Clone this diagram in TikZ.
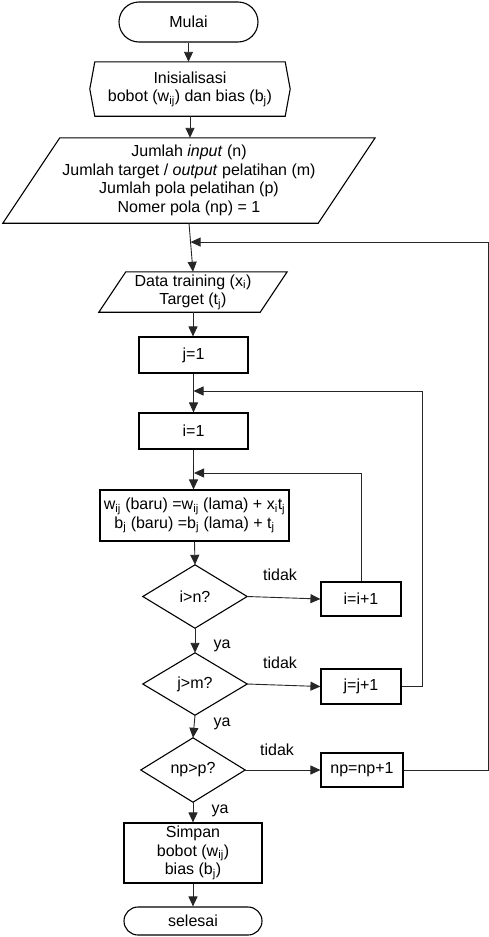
\documentclass[tikz,border=0pt]{standalone}
\usepackage{fontspec}
\setmainfont{Liberation Sans}
\usetikzlibrary{arrows.meta,calc}
\begin{document}
\begin{tikzpicture}[x=1pt,y=-1pt,
  font=\fontsize{16}{18.5}\selectfont,
  box/.style={draw=black,line width=1.1pt,align=center,inner sep=0pt},
  hold/.style={align=center,inner sep=0pt},
  outl/.style={draw=black,line width=1.1pt,line join=miter},
  flow/.style={draw=black!85,line width=0.9pt,-{Triangle[length=10pt,width=9pt]}},
  loop/.style={draw=black!85,line width=0.8pt,-{Triangle[length=10pt,width=9pt]}},
  lbl/.style={inner sep=0pt}]
\useasboundingbox (0,0) rectangle (489,937);

% start
\node[box,rounded corners=20pt,minimum width=139pt,minimum height=40pt] (start) at (188.5,22) {Mulai};

% init hexagon
\node[hold,minimum width=200pt,minimum height=54pt] (init) at (190,89) {Inisialisasi\\bobot (w\textsubscript{ij}) dan bias (b\textsubscript{j})};
\draw[outl] (init.west) -- ($(init.north west)+(5,0)$) -- ($(init.north east)-(5,0)$) -- (init.east) -- ($(init.south east)-(5,0)$) -- ($(init.south west)+(5,0)$) -- cycle;

% big parallelogram
\node[hold,minimum width=372pt,minimum height=85pt] (para) at (189,180.5) {Jumlah \textit{input} (n)\\Jumlah target / \textit{output} pelatihan (m)\\Jumlah pola pelatihan (p)\\Nomer pola (np) = 1};
\draw[outl] ($(para.north west)+(57,0)$) -- (para.north east) -- ($(para.south east)-(57,0)$) -- (para.south west) -- cycle;

% data training parallelogram
\node[hold,minimum width=188pt,minimum height=40pt] (data) at (193,292) {Data training (x\textsubscript{i})\\Target (t\textsubscript{j})};
\draw[outl] ($(data.north west)+(27,0)$) -- (data.north east) -- ($(data.south east)-(27,0)$) -- (data.south west) -- cycle;

% boxes
\node[box,minimum width=109pt,minimum height=36pt] (j1) at (193.5,355) {j=1};
\node[box,minimum width=109pt,minimum height=36pt] (i1) at (193.5,431) {i=1};
\node[box,minimum width=189pt,minimum height=51pt] (w) at (194.5,515.5) {w\textsubscript{ij} (baru) =w\textsubscript{ij} (lama) + x\textsubscript{i}t\textsubscript{j}\\b\textsubscript{j} (baru) =b\textsubscript{j} (lama) + t\textsubscript{j}};

% diamonds
\node[hold,minimum width=104pt,minimum height=63pt] (d1) at (195,596.5) {i>n?};
\draw[outl] (d1.north) -- (d1.east) -- (d1.south) -- (d1.west) -- cycle;
\node[hold,minimum width=104pt,minimum height=62pt] (d2) at (195,684) {j>m?};
\draw[outl] (d2.north) -- (d2.east) -- (d2.south) -- (d2.west) -- cycle;
\node[hold,minimum width=104pt,minimum height=64pt] (d3) at (193,770) {np>p?};
\draw[outl] (d3.north) -- (d3.east) -- (d3.south) -- (d3.west) -- cycle;

% side boxes
\node[box,minimum width=80pt,minimum height=34pt] (ii) at (361,599) {i=i+1};
\node[box,minimum width=80pt,minimum height=35pt] (jj) at (361,686.5) {j=j+1};
\node[box,minimum width=82pt,minimum height=34pt] (np) at (362,770) {np=np+1};

% end
\node[box,minimum width=138pt,minimum height=60pt] (simpan) at (193,853) {Simpan\\bobot (w\textsubscript{ij})\\bias (b\textsubscript{j})};
\node[box,rounded corners=14pt,minimum width=138pt,minimum height=28pt] (stop) at (193,921) {selesai};

% main flow
\draw[flow] (start.south) -- (start.south |- init.north);
\draw[flow] (init.south) -- (init.south |- para.north);
\draw[flow] (para.south) -- (data.north);
\draw[flow] (data.south) -- (data.south |- j1.north);
\draw[flow] (j1.south) -- (i1.north);
\draw[flow] (i1.south) -- (i1.south |- w.north);
\draw[flow] (w.south) -- (d1.north);
\draw[flow] (d1.south) -- (d2.north);
\draw[flow] (d2.south) -- (d3.north);
\draw[flow] (d3.south) -- (simpan.north);
\draw[flow] (simpan.south) -- (stop.north);

% decisions to side boxes
\draw[flow] (d1.east) -- (ii.west);
\draw[flow] (d2.east) -- (jj.west);
\draw[flow] (d3.east) -- (np.west);

% loops back
\coordinate (c1) at (194,473);
\coordinate (c2) at (193.5,391);
\coordinate (c3) at ($(para.south)!0.388!(data.north)$);
\draw[loop] (ii.north) |- (c1);
\draw[loop] (jj.east) -- ++(21,0) |- (c2);
\draw[loop] (np.east) -- ++(85,0) |- (c3);

% labels
\node[lbl] (t1) at (280,575) {tidak};
\node[lbl] (t2) at (280,663) {tidak};
\node[lbl] (t3) at (277,750) {tidak};
\node[lbl] (y1) at (222,646) {ya};
\node[lbl] (y2) at (222,724) {ya};
\node[lbl] (y3) at (220,811) {ya};
\end{tikzpicture}
\end{document}
